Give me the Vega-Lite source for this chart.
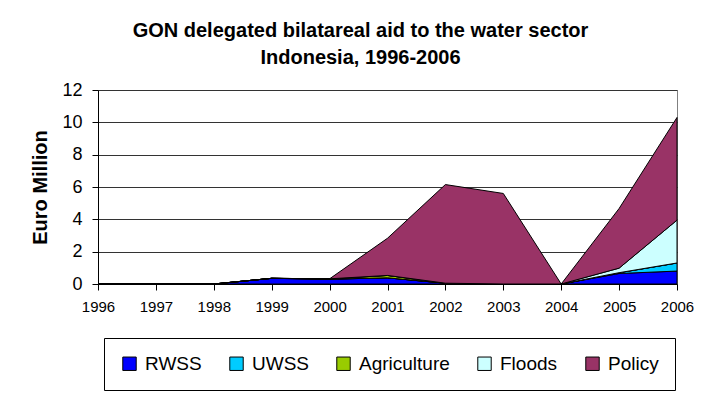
{
  "$schema": "https://vega.github.io/schema/vega-lite/v6.json",
  "width": 579,
  "height": 194,
  "autosize": "none",
  "padding": {"left": 98, "top": 90, "right": 40, "bottom": 109},
  "background": "white",
  "title": {
    "text": ["GON delegated bilatareal aid to the water sector", "Indonesia, 1996-2006"],
    "font": "Liberation Sans, Arial, sans-serif",
    "fontSize": 20,
    "fontWeight": "bold",
    "color": "black",
    "anchor": "middle",
    "frame": "group",
    "dx": -27,
    "offset": 13,
    "lineHeight": 27
  },
  "data": {
    "values": [
      {"year": 1996, "series": "RWSS", "value": 0},
      {"year": 1997, "series": "RWSS", "value": 0},
      {"year": 1998, "series": "RWSS", "value": 0},
      {"year": 1999, "series": "RWSS", "value": 0.35},
      {"year": 2000, "series": "RWSS", "value": 0.3},
      {"year": 2001, "series": "RWSS", "value": 0.38},
      {"year": 2002, "series": "RWSS", "value": 0.05},
      {"year": 2003, "series": "RWSS", "value": 0},
      {"year": 2004, "series": "RWSS", "value": 0},
      {"year": 2005, "series": "RWSS", "value": 0.65},
      {"year": 2006, "series": "RWSS", "value": 0.8},
      {"year": 1996, "series": "UWSS", "value": 0},
      {"year": 1997, "series": "UWSS", "value": 0},
      {"year": 1998, "series": "UWSS", "value": 0},
      {"year": 1999, "series": "UWSS", "value": 0},
      {"year": 2000, "series": "UWSS", "value": 0},
      {"year": 2001, "series": "UWSS", "value": 0},
      {"year": 2002, "series": "UWSS", "value": 0},
      {"year": 2003, "series": "UWSS", "value": 0},
      {"year": 2004, "series": "UWSS", "value": 0},
      {"year": 2005, "series": "UWSS", "value": 0.05},
      {"year": 2006, "series": "UWSS", "value": 0.5},
      {"year": 1996, "series": "Agriculture", "value": 0},
      {"year": 1997, "series": "Agriculture", "value": 0},
      {"year": 1998, "series": "Agriculture", "value": 0},
      {"year": 1999, "series": "Agriculture", "value": 0},
      {"year": 2000, "series": "Agriculture", "value": 0.02},
      {"year": 2001, "series": "Agriculture", "value": 0.15},
      {"year": 2002, "series": "Agriculture", "value": 0},
      {"year": 2003, "series": "Agriculture", "value": 0},
      {"year": 2004, "series": "Agriculture", "value": 0},
      {"year": 2005, "series": "Agriculture", "value": 0},
      {"year": 2006, "series": "Agriculture", "value": 0},
      {"year": 1996, "series": "Floods", "value": 0},
      {"year": 1997, "series": "Floods", "value": 0},
      {"year": 1998, "series": "Floods", "value": 0},
      {"year": 1999, "series": "Floods", "value": 0},
      {"year": 2000, "series": "Floods", "value": 0},
      {"year": 2001, "series": "Floods", "value": 0},
      {"year": 2002, "series": "Floods", "value": 0},
      {"year": 2003, "series": "Floods", "value": 0},
      {"year": 2004, "series": "Floods", "value": 0},
      {"year": 2005, "series": "Floods", "value": 0.28},
      {"year": 2006, "series": "Floods", "value": 2.65},
      {"year": 1996, "series": "Policy", "value": 0},
      {"year": 1997, "series": "Policy", "value": 0},
      {"year": 1998, "series": "Policy", "value": 0},
      {"year": 1999, "series": "Policy", "value": 0},
      {"year": 2000, "series": "Policy", "value": 0},
      {"year": 2001, "series": "Policy", "value": 2.3},
      {"year": 2002, "series": "Policy", "value": 6.1},
      {"year": 2003, "series": "Policy", "value": 5.6},
      {"year": 2004, "series": "Policy", "value": 0},
      {"year": 2005, "series": "Policy", "value": 3.69},
      {"year": 2006, "series": "Policy", "value": 6.35}
    ]
  },
  "transform": [
    {"calculate": "indexof(['RWSS','UWSS','Agriculture','Floods','Policy'], datum.series)", "as": "stackOrder"}
  ],
  "mark": {"type": "area", "stroke": "black", "strokeWidth": 1, "interpolate": "linear"},
  "encoding": {
    "x": {
      "field": "year",
      "type": "quantitative",
      "scale": {"domain": [1996, 2006], "nice": false, "zero": false},
      "axis": {
        "title": null,
        "values": [1996, 1997, 1998, 1999, 2000, 2001, 2002, 2003, 2004, 2005, 2006],
        "format": "d",
        "grid": false,
        "domainColor": "black",
        "tickColor": "black",
        "tickSize": 6,
        "labelPadding": 9,
        "labelFont": "Liberation Sans, Arial, sans-serif",
        "labelFontSize": 15,
        "labelColor": "black",
        "labelFlush": false
      }
    },
    "y": {
      "field": "value",
      "type": "quantitative",
      "stack": "zero",
      "scale": {"domain": [0, 12], "nice": false},
      "axis": {
        "title": "Euro Million",
        "titleFont": "Liberation Sans, Arial, sans-serif",
        "titleFontSize": 20,
        "titleFontWeight": "bold",
        "titleColor": "black",
        "titleX": -58,
        "titleY": 97,
        "titleAngle": -90,
        "titleAlign": "center",
        "titleBaseline": "middle",
        "values": [0, 2, 4, 6, 8, 10, 12],
        "grid": true,
        "gridColor": "#333333",
        "gridWidth": 1,
        "domainColor": "black",
        "tickColor": "black",
        "tickSize": 6,
        "labelPadding": 10,
        "labelFont": "Liberation Sans, Arial, sans-serif",
        "labelFontSize": 18,
        "labelColor": "black"
      }
    },
    "order": {"field": "stackOrder", "type": "quantitative", "sort": "ascending"},
    "color": {
      "field": "series",
      "type": "nominal",
      "sort": ["RWSS", "UWSS", "Agriculture", "Floods", "Policy"],
      "scale": {
        "domain": ["RWSS", "UWSS", "Agriculture", "Floods", "Policy"],
        "range": ["#0000FF", "#00CCFF", "#99CC00", "#CCFFFF", "#993366"]
      },
      "legend": {
        "title": null,
        "orient": "none",
        "direction": "horizontal",
        "legendX": 6,
        "legendY": 248,
        "strokeColor": "black",
        "padding": 16,
        "columnPadding": 25,
        "symbolType": "square",
        "symbolSize": 180,
        "symbolStrokeColor": "black",
        "symbolStrokeWidth": 1,
        "symbolOpacity": 1,
        "labelFont": "Liberation Sans, Arial, sans-serif",
        "labelFontSize": 19,
        "labelColor": "black",
        "labelOffset": 6
      }
    }
  },
  "config": {
    "view": {"stroke": "#808080", "strokeWidth": 1}
  }
}
